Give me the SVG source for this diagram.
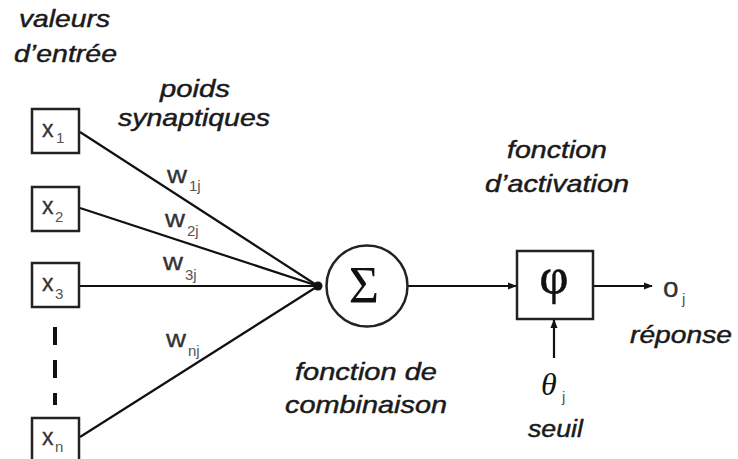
<svg xmlns="http://www.w3.org/2000/svg" width="738" height="459" viewBox="0 0 738 459">
<style>
.lbl{font-family:"Liberation Sans",Arial,sans-serif;font-style:italic;font-size:24px;fill:#1a1a1a;stroke:#1a1a1a;stroke-width:0.45}
.var{font-family:"Liberation Sans",Arial,sans-serif;font-size:23px;fill:#333;stroke:#333;stroke-width:0.3}
.sub{font-family:"Liberation Sans",Arial,sans-serif;font-size:15px;fill:#555}
.box{fill:#fff;stroke:#222;stroke-width:2.5}
.ln{stroke:#111;stroke-width:2.2;fill:none}
.sym{font-family:"Liberation Serif","Times New Roman",serif;fill:#111}
</style>
<defs>
<marker id="ah" viewBox="0 0 10 10" refX="9" refY="5" markerWidth="4" markerHeight="4" orient="auto" markerUnits="strokeWidth">
<path d="M0,1 L10,5 L0,9 z" fill="#111"/>
</marker>
</defs>
<rect width="738" height="459" fill="#fff"/>

<g id="labels">
<text class="lbl" x="19" y="27" textLength="91" lengthAdjust="spacingAndGlyphs">valeurs</text>
<text class="lbl" x="14" y="62" textLength="103" lengthAdjust="spacingAndGlyphs">d’entrée</text>
<text class="lbl" x="160" y="97" textLength="70" lengthAdjust="spacingAndGlyphs">poids</text>
<text class="lbl" x="118" y="126" textLength="152" lengthAdjust="spacingAndGlyphs">synaptiques</text>
<text class="lbl" x="507" y="158" textLength="100" lengthAdjust="spacingAndGlyphs">fonction</text>
<text class="lbl" x="485" y="192" textLength="144" lengthAdjust="spacingAndGlyphs">d’activation</text>
<text class="lbl" x="295" y="380" textLength="142" lengthAdjust="spacingAndGlyphs">fonction de</text>
<text class="lbl" x="285" y="413" textLength="162" lengthAdjust="spacingAndGlyphs">combinaison</text>
<text class="lbl" x="630" y="343" textLength="102" lengthAdjust="spacingAndGlyphs">réponse</text>
<text class="lbl" x="528" y="437" textLength="55" lengthAdjust="spacingAndGlyphs">seuil</text>
</g>

<g id="connectors">
<line class="ln" x1="80" y1="132" x2="318" y2="286"/>
<line class="ln" x1="80" y1="208" x2="318" y2="286"/>
<line class="ln" x1="80" y1="286" x2="318" y2="286"/>
<line class="ln" x1="80" y1="437" x2="318" y2="286"/>
<circle cx="318" cy="286" r="4.5" fill="#111"/>
<line class="ln" x1="408" y1="286" x2="516" y2="286" marker-end="url(#ah)"/>
<line class="ln" x1="593" y1="286" x2="652" y2="286" marker-end="url(#ah)"/>
<line class="ln" x1="554" y1="358" x2="554" y2="320" marker-end="url(#ah)"/>
<line x1="55" y1="327" x2="55" y2="405" stroke="#111" stroke-width="4" stroke-dasharray="18,15"/>
<text class="var" x="167" y="183" textLength="20" lengthAdjust="spacingAndGlyphs">w</text><text class="sub" x="189" y="191">1j</text>
<text class="var" x="165" y="227" textLength="20" lengthAdjust="spacingAndGlyphs">w</text><text class="sub" x="187" y="236">2j</text>
<text class="var" x="163" y="270" textLength="20" lengthAdjust="spacingAndGlyphs">w</text><text class="sub" x="185" y="280">3j</text>
<text class="var" x="166" y="347" textLength="20" lengthAdjust="spacingAndGlyphs">w</text><text class="sub" x="188" y="356">nj</text>
</g>

<g id="x1"><rect class="box" x="32" y="109" width="47" height="44"/><text class="var" x="42" y="137">x</text><text class="sub" x="56" y="143">1</text></g>
<g id="x2"><rect class="box" x="32" y="187" width="47" height="44"/><text class="var" x="42" y="214">x</text><text class="sub" x="55" y="222">2</text></g>
<g id="x3"><rect class="box" x="32" y="263" width="47" height="44"/><text class="var" x="42" y="291">x</text><text class="sub" x="55" y="299">3</text></g>
<g id="xn"><rect class="box" x="32" y="418" width="47" height="44"/><text class="var" x="42" y="445">x</text><text class="sub" x="55" y="452">n</text></g>

<g id="sum"><circle cx="367" cy="286" r="40.5" fill="#fff" stroke="#222" stroke-width="2.5"/><text class="sym" x="364" y="303" font-size="52" text-anchor="middle">Σ</text></g>

<g id="activation"><rect class="box" x="517" y="251" width="76" height="68"/><text class="sym" x="554" y="293" font-size="50" text-anchor="middle" stroke="#111" stroke-width="0.6">φ</text></g>

<g id="threshold"><text class="sym" x="541" y="395" font-size="32" font-style="italic">θ</text><text class="sub" x="562" y="402">j</text></g>

<g id="output"><text class="var" x="663" y="297" style="font-size:28px">o</text><text class="sub" x="682" y="304">j</text></g>
</svg>
